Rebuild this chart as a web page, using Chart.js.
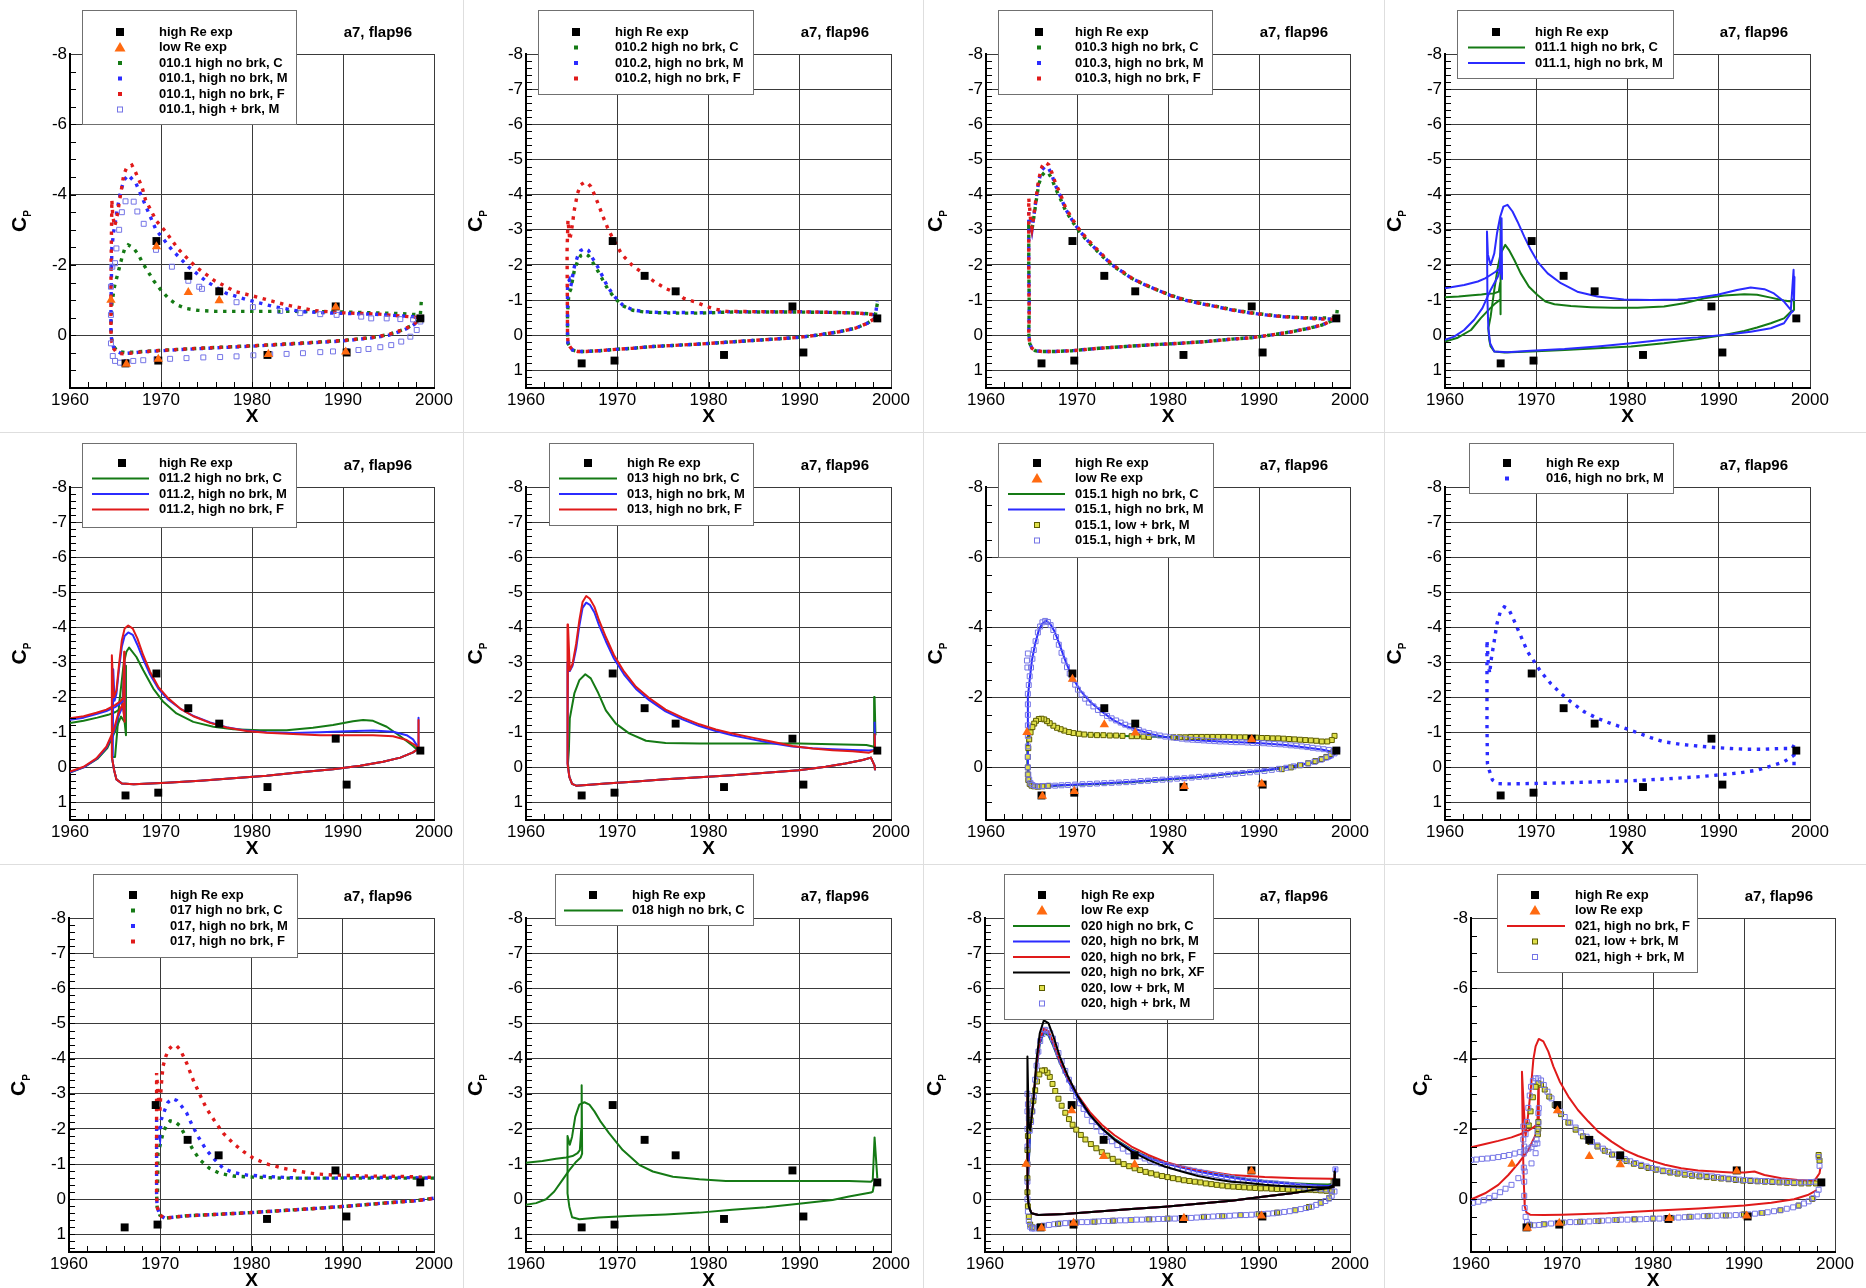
<!DOCTYPE html>
<html>
<head>
<meta charset="utf-8">
<script src="https://cdn.jsdelivr.net/npm/chart.js@4.4.0/dist/chart.umd.min.js"></script>
<style>
  body { margin: 0; background: #fff; width: 1866px; height: 1288px; position: relative; overflow: hidden; }
  canvas { position: absolute; }
  .sep { position: absolute; background: #dedede; }
</style>
</head>
<body>
<div class="sep" style="left:463px;top:0;width:1px;height:1288px"></div>
<div class="sep" style="left:923px;top:0;width:1px;height:1288px"></div>
<div class="sep" style="left:1384px;top:0;width:1px;height:1288px"></div>
<div class="sep" style="left:0;top:432px;width:1866px;height:1px"></div>
<div class="sep" style="left:0;top:864px;width:1866px;height:1px"></div>
<script>
// experimental points, the same in every panel
const expHighX  = [1966.1, 1969.5, 1969.7, 1973.0, 1976.4, 1981.7, 1989.2, 1990.4, 1998.5];
const expHighCp = [0.80, -2.68, 0.72, -1.69, -1.25, 0.56, -0.82, 0.49, -0.48];
const expLowX   = [1964.5, 1966.2, 1969.5, 1969.7, 1973.0, 1976.4, 1981.8, 1989.2, 1990.3];
const expLowCp  = [-1.00, 0.82, -2.52, 0.68, -1.22, -0.99, 0.54, -0.80, 0.47];

const xTicks = [1960, 1970, 1980, 1990, 2000];
const yTicksFine = [-8, -7, -6, -5, -4, -3, -2, -1, 0, 1];
const yTicksCoarse = [-8, -6, -4, -2, 0];

// CFD curves, flat lists x, Cp, x, Cp ...
// 010.1
const p1_C = [1998.6,-0.95, 1998.5,-0.58, 1996,-0.62, 1992,-0.65, 1988,-0.67, 1984,-0.68, 1980,-0.68, 1976,-0.68, 1974,-0.71, 1972.8,-0.76, 1971.8,-0.86, 1970.9,-1.03, 1970,-1.28, 1969.2,-1.55, 1968.6,-1.8, 1968,-2.05, 1967.5,-2.3, 1966.9,-2.5, 1966.4,-2.57, 1966,-2.45, 1965.7,-2.2, 1965.4,-1.9, 1965.1,-1.6, 1964.9,-1.4, 1964.6,-0.9, 1964.5,-0.2, 1964.6,0.15, 1964.8,0.32, 1965.1,0.42, 1965.5,0.47, 1966,0.49, 1967,0.48, 1968,0.46, 1970,0.43, 1972,0.4, 1975,0.36, 1980,0.3, 1985,0.23, 1990,0.15, 1993,0.07, 1995,-0.02, 1996.5,-0.15, 1997.5,-0.27, 1998.2,-0.4, 1998.5,-0.5];
const p1_M = [1998.5,-0.5, 1997.7,-0.53, 1993.3,-0.6, 1988.9,-0.63, 1985.5,-0.67, 1982.3,-0.82, 1979.6,-1.0, 1977.2,-1.19, 1975,-1.53, 1973,-1.95, 1971.2,-2.43, 1969.45,-3.0, 1968.2,-3.75, 1967.25,-4.32, 1966.4,-4.56, 1965.9,-4.4, 1965.5,-4.0, 1965.2,-3.6, 1965,-3.25, 1964.8,-2.95, 1964.6,-2.5, 1964.55,-1.6, 1964.5,-0.8, 1964.5,-0.1, 1964.6,0.2, 1964.8,0.35, 1965.1,0.45, 1965.5,0.5, 1966,0.52, 1967,0.5, 1968,0.47, 1970,0.44, 1972,0.41, 1975,0.37, 1980,0.31, 1985,0.24, 1990,0.16, 1993,0.08, 1995,0.0, 1996.5,-0.13, 1997.5,-0.25, 1998.2,-0.38, 1998.5,-0.5];
const p1_F = [1998.5,-0.5, 1994,-0.6, 1990,-0.64, 1986.9,-0.7, 1983.8,-0.86, 1980.8,-1.07, 1978.1,-1.25, 1975.9,-1.55, 1973.8,-1.95, 1971.9,-2.45, 1970.5,-2.95, 1969.5,-3.25, 1968.3,-3.85, 1967.9,-4.23, 1967.5,-4.46, 1967.1,-4.7, 1966.8,-4.84, 1966.2,-4.75, 1965.9,-4.56, 1965.7,-4.23, 1965.4,-3.75, 1965.1,-3.28, 1964.9,-3.1, 1964.7,-3.4, 1964.6,-3.85, 1964.55,-2.8, 1964.5,-1.5, 1964.5,-0.1, 1964.6,0.2, 1964.8,0.38, 1965.1,0.48, 1965.5,0.52, 1966,0.53, 1967,0.5, 1968,0.47, 1970,0.43, 1972,0.4, 1975,0.36, 1980,0.3, 1985,0.23, 1990,0.15, 1993,0.07, 1995,-0.02, 1996.5,-0.15, 1997.5,-0.27, 1998.2,-0.4, 1998.5,-0.5];
const p1_HB = [1998.6,-0.48, 1997.7,-0.45, 1996.3,-0.46, 1994.8,-0.48, 1993.1,-0.48, 1992,-0.53, 1989.3,-0.58, 1987.5,-0.6, 1985.3,-0.63, 1983.1,-0.69, 1980.1,-0.8, 1978.3,-0.94, 1974.5,-1.32, 1974.2,-1.38, 1973,-1.55, 1971.2,-1.95, 1969.45,-2.43, 1968.1,-3.17, 1967.4,-3.52, 1967,-3.8, 1966.1,-3.81, 1965.7,-3.5, 1965.4,-3.0, 1965.1,-2.47, 1964.95,-2.05, 1964.65,-1.95, 1964.5,-1.38, 1964.5,-0.58, 1964.5,0.23, 1964.7,0.59, 1964.95,0.73, 1965.5,0.78, 1966.2,0.76, 1966.95,0.73, 1968.05,0.71, 1969.5,0.68, 1971,0.67, 1972.8,0.65, 1974.65,0.63, 1976.5,0.62, 1978.3,0.6, 1980.15,0.57, 1982,0.54, 1983.8,0.53, 1985.6,0.51, 1987.5,0.48, 1988.9,0.46, 1990.4,0.45, 1991.7,0.42, 1992.8,0.39, 1994.1,0.34, 1995.3,0.28, 1996.4,0.18, 1997.4,0.04, 1998.1,-0.15, 1998.5,-0.39];

// 010.2
const p2_low = [1964.55,-0.05, 1964.6,0.23, 1964.8,0.32, 1965.1,0.42, 1965.65,0.46, 1966.6,0.46, 1968,0.44, 1969.85,0.4, 1971.7,0.37, 1973.9,0.32, 1976.1,0.29, 1979,0.25, 1981.9,0.2, 1984.8,0.15, 1987.7,0.1, 1989.9,0.06, 1992.1,-0.01, 1994.3,-0.1, 1996.1,-0.2, 1997.4,-0.34, 1998.2,-0.48];
const p2_C_up = [1998.5,-0.9, 1998.3,-0.6, 1996.5,-0.63, 1993.6,-0.65, 1989.9,-0.66, 1986.3,-0.66, 1982.6,-0.66, 1979,-0.63, 1976.8,-0.63, 1974.6,-0.64, 1973,-0.66, 1971.7,-0.71, 1970.6,-0.84, 1969.7,-1.06, 1968.95,-1.32, 1968.4,-1.58, 1967.85,-1.84, 1967.3,-2.08, 1966.85,-2.26, 1966.45,-2.32, 1966,-2.27, 1965.65,-2.1, 1965.3,-1.85, 1964.9,-1.3, 1964.7,-1.2, 1964.55,-0.6];
const p2_M_up = [1998.5,-0.96, 1998.3,-0.58, 1996.5,-0.63, 1993.6,-0.65, 1989.9,-0.67, 1986.3,-0.67, 1982.6,-0.67, 1979,-0.64, 1976.8,-0.65, 1974.6,-0.65, 1973,-0.67, 1971.7,-0.72, 1970.6,-0.86, 1969.7,-1.1, 1968.95,-1.38, 1968.4,-1.67, 1967.85,-1.95, 1967.3,-2.19, 1966.85,-2.41, 1966.45,-2.47, 1966,-2.41, 1965.65,-2.24, 1965.3,-1.95, 1964.9,-1.38, 1964.75,-1.57, 1964.55,-1.48, 1964.55,-0.96];
const p2_F_up = [1998.3,-0.58, 1996.5,-0.63, 1993.6,-0.65, 1989.9,-0.67, 1986.3,-0.67, 1982,-0.68, 1980.6,-0.75, 1979.5,-0.85, 1978.5,-0.95, 1977.3,-1.05, 1976.5,-1.2, 1975.4,-1.32, 1974.2,-1.5, 1972.9,-1.75, 1971.6,-2.0, 1970.5,-2.3, 1969.5,-2.76, 1968.95,-3.05, 1968.4,-3.4, 1967.95,-3.71, 1967.5,-4.0, 1967.1,-4.23, 1966.75,-4.33, 1966.4,-4.35, 1966,-4.28, 1965.65,-4.04, 1965.3,-3.57, 1965,-3.0, 1964.8,-2.71, 1964.6,-3.28, 1964.5,-2.4];

// 010.3
const p3_low = [1964.7,-0.06, 1964.8,0.23, 1965.05,0.37, 1965.4,0.44, 1966.15,0.46, 1967.6,0.46, 1969.45,0.44, 1972.4,0.37, 1975.3,0.32, 1978.2,0.27, 1981.2,0.23, 1984.1,0.18, 1987,0.11, 1989.2,0.07, 1991.4,-0.01, 1993.6,-0.1, 1995.5,-0.2, 1996.9,-0.29, 1998,-0.41, 1998.5,-0.48];
const p3_C_up = [1998.6,-0.72, 1998.5,-0.5, 1996.2,-0.49, 1994.4,-0.51, 1992.5,-0.54, 1990.7,-0.59, 1988.9,-0.65, 1987,-0.73, 1985.2,-0.83, 1983.4,-0.92, 1981.9,-1.01, 1980.4,-1.13, 1979,-1.27, 1977.5,-1.43, 1976,-1.62, 1974.95,-1.8, 1973.85,-1.99, 1972.9,-2.22, 1972,-2.45, 1971.1,-2.69, 1970.2,-2.97, 1969.45,-3.25, 1968.7,-3.57, 1968.2,-3.87, 1967.6,-4.2, 1967.25,-4.44, 1966.9,-4.6, 1966.5,-4.65, 1966.15,-4.55, 1965.8,-4.3, 1965.5,-3.8, 1965.2,-3.25, 1965.05,-3.0, 1964.9,-3.05, 1964.7,-3.1, 1964.7,-2.05, 1964.75,-0.8];
const p3_M_up = [1998.5,-0.53, 1998,-0.46, 1996.2,-0.48, 1994.4,-0.5, 1992.5,-0.53, 1990.7,-0.58, 1988.9,-0.64, 1987,-0.72, 1985.2,-0.82, 1983.4,-0.91, 1981.9,-1.0, 1980.4,-1.12, 1979,-1.27, 1977.5,-1.43, 1976,-1.62, 1974.95,-1.81, 1973.85,-2.0, 1972.9,-2.24, 1972,-2.47, 1971.1,-2.71, 1970.2,-3.0, 1969.45,-3.28, 1968.7,-3.61, 1968.2,-3.94, 1967.6,-4.28, 1967.25,-4.55, 1966.9,-4.74, 1966.5,-4.8, 1966.15,-4.7, 1965.8,-4.4, 1965.5,-3.85, 1965.2,-3.28, 1965.05,-3.0, 1964.9,-3.2, 1964.7,-3.5, 1964.7,-2.9, 1964.7,-1.95, 1964.75,-0.9];
const p3_F_up = [1998.5,-0.5, 1998,-0.45, 1996.2,-0.47, 1994.4,-0.5, 1992.5,-0.53, 1990.7,-0.58, 1988.9,-0.64, 1987,-0.72, 1985.2,-0.82, 1983.4,-0.91, 1981.9,-1.0, 1980.4,-1.12, 1979,-1.27, 1977.5,-1.44, 1976,-1.63, 1974.95,-1.82, 1973.85,-2.02, 1972.9,-2.26, 1972,-2.5, 1971.1,-2.74, 1970.2,-3.03, 1969.45,-3.32, 1968.7,-3.66, 1968.2,-4.0, 1967.6,-4.35, 1967.25,-4.62, 1966.9,-4.85, 1966.5,-4.92, 1966.15,-4.8, 1965.8,-4.45, 1965.5,-3.9, 1965.2,-3.3, 1965.05,-3.05, 1964.9,-3.3, 1964.7,-3.9, 1964.7,-2.6, 1964.7,-1.67, 1964.75,-0.5];

// 011.1
const p4_C_slat = [1960,-1.08, 1961.5,-1.1, 1963,-1.14, 1964,-1.16, 1964.6,-1.18, 1965.3,-1.19, 1965.9,-1.24, 1966.05,-1.5, 1966.1,-3.3, 1966.12,-0.6, 1966.05,-1.02, 1965.4,-0.88, 1964.7,-0.7, 1963.9,-0.48, 1962.85,-0.15, 1961.4,0.07, 1960,0.18];
const p4_C_main = [1998.3,-0.72, 1998.25,-1.05, 1997.9,-0.96, 1997.15,-0.99, 1995.7,-1.07, 1994.2,-1.15, 1992.8,-1.17, 1990.6,-1.13, 1988.4,-1.05, 1986.2,-0.91, 1984,-0.82, 1981.1,-0.78, 1978.5,-0.78, 1976,-0.8, 1973.8,-0.83, 1972,-0.88, 1971,-0.96, 1970.1,-1.15, 1969.2,-1.38, 1968.3,-1.76, 1967.6,-2.14, 1967,-2.43, 1966.6,-2.57, 1966.1,-2.33, 1965.8,-1.95, 1965.4,-1.29, 1965,-0.53, 1964.75,-0.2, 1964.85,0.13, 1965,0.32, 1965.4,0.46, 1966.5,0.49, 1969.4,0.46, 1973.1,0.42, 1976.7,0.37, 1980.4,0.32, 1984,0.23, 1987.7,0.11, 1990.6,-0.01, 1992.8,-0.12, 1994.2,-0.22, 1995.7,-0.34, 1997.15,-0.48, 1997.9,-0.67, 1998.3,-0.72];
const p4_M_slat = [1960,-1.34, 1962.1,-1.43, 1963.6,-1.53, 1964.4,-1.62, 1964.9,-1.7, 1965.5,-1.8, 1966,-1.9, 1966.2,-3.33, 1966.25,-1.6, 1966.05,-1.9, 1965.8,-1.67, 1965,-1.29, 1964.1,-0.77, 1963.2,-0.44, 1962.1,-0.15, 1961,0.04, 1960,0.13];
const p4_M_main = [1998.3,-1.67, 1998.25,-1.0, 1998.2,-1.86, 1997.9,-0.72, 1997.15,-0.96, 1996.05,-1.19, 1995,-1.31, 1993.5,-1.36, 1992,-1.29, 1989.85,-1.15, 1987.7,-1.07, 1985.5,-1.02, 1982.55,-1.0, 1979.6,-1.02, 1976.7,-1.1, 1974.5,-1.24, 1972.7,-1.48, 1971.25,-1.76, 1970.15,-2.09, 1969.4,-2.43, 1968.7,-2.8, 1967.95,-3.23, 1967.4,-3.52, 1966.85,-3.71, 1966.4,-3.66, 1966.05,-3.37, 1965.7,-2.9, 1965.4,-2.33, 1965,-2.0, 1964.7,-2.3, 1964.6,-2.95, 1964.65,-1.0, 1964.75,-0.2, 1964.95,0.23, 1965.4,0.46, 1966.85,0.48, 1969.4,0.44, 1973.1,0.39, 1976.7,0.32, 1980.4,0.23, 1984,0.13, 1987.7,0.06, 1991.3,-0.03, 1993.5,-0.1, 1995.7,-0.2, 1997.15,-0.34, 1997.9,-0.63, 1998.2,-0.7];

// 011.2
const p5_low = [1964.6,-0.3, 1964.85,0.08, 1965.1,0.34, 1965.7,0.46, 1967,0.48, 1970.6,0.44, 1974.3,0.38, 1977.9,0.31, 1981.6,0.24, 1985.3,0.14, 1988.9,0.05, 1991.9,-0.05, 1994.4,-0.16, 1996.3,-0.28, 1997.7,-0.43, 1998.3,-0.54];
const p5_C_up = [1998.2,-0.49, 1997.7,-0.61, 1996.3,-0.89, 1994.8,-1.16, 1993.3,-1.33, 1992.2,-1.35, 1991.1,-1.32, 1988.9,-1.21, 1986.7,-1.13, 1983.8,-1.06, 1980.9,-1.06, 1977.95,-1.09, 1975.75,-1.16, 1973.55,-1.3, 1971.7,-1.54, 1970.25,-1.87, 1969.15,-2.25, 1968.05,-2.77, 1967.3,-3.15, 1966.5,-3.42, 1966.2,-3.3, 1965.9,-2.96, 1965.7,-2.49, 1965.4,-1.82, 1965.2,-1.06, 1964.95,-0.3];
const p5_M_up = [1998.3,-1.42, 1998.3,-0.55, 1997.7,-0.8, 1997,-0.92, 1995.5,-1.02, 1993.3,-1.05, 1990.4,-1.03, 1987.5,-1.0, 1984.5,-0.98, 1981.6,-1.0, 1979.4,-1.05, 1977.2,-1.15, 1975.4,-1.28, 1973.55,-1.47, 1972.1,-1.68, 1970.8,-1.93, 1969.7,-2.25, 1968.8,-2.65, 1968.05,-3.08, 1967.4,-3.5, 1966.9,-3.78, 1966.4,-3.85, 1966,-3.75, 1965.7,-3.45, 1965.4,-2.85, 1965.1,-2.1, 1964.9,-1.9, 1964.75,-2.8, 1964.7,-0.3];
const p5_F_up = [1998.3,-1.35, 1998.3,-0.54, 1997.9,-0.64, 1997,-0.78, 1995.5,-0.89, 1993.3,-0.92, 1990.4,-0.92, 1987.5,-0.92, 1984.5,-0.95, 1981.6,-0.99, 1979.4,-1.04, 1977.2,-1.14, 1975.4,-1.27, 1973.55,-1.46, 1972.1,-1.68, 1970.8,-1.97, 1969.7,-2.3, 1968.8,-2.73, 1968.05,-3.2, 1967.4,-3.68, 1966.9,-3.96, 1966.4,-4.05, 1966,-3.96, 1965.7,-3.63, 1965.4,-2.96, 1965.1,-2.2, 1964.8,-2.0, 1964.6,-3.2, 1964.6,-0.3];
const p5_C_slat = [1960,-1.27, 1961.5,-1.33, 1963,-1.42, 1964.2,-1.5, 1965,-1.58, 1965.7,-1.7, 1966.05,-2.9, 1966.15,-0.92, 1966,-1.3, 1965.6,-1.45, 1964.9,-1.0, 1964.1,-0.55, 1963,-0.24, 1961.5,0.0, 1960,0.15];
const p5_M_slat = [1960,-1.36, 1961.5,-1.42, 1962.9,-1.52, 1964,-1.61, 1964.95,-1.72, 1965.5,-1.82, 1965.85,-1.9, 1965.95,-3.0, 1966,-1.4, 1965.8,-1.75, 1965.3,-1.45, 1964.8,-1.0, 1964,-0.56, 1962.9,-0.24, 1961.5,0.0, 1960,0.14];
const p5_F_slat = [1960,-1.4, 1961.5,-1.46, 1962.9,-1.56, 1964,-1.65, 1964.95,-1.78, 1965.5,-1.88, 1965.85,-1.98, 1965.95,-3.3, 1966,-1.3, 1965.8,-1.82, 1965.3,-1.54, 1964.8,-1.06, 1964,-0.59, 1962.9,-0.26, 1961.5,-0.02, 1960,0.12];

// 013
const p6_low = [1964.55,-0.11, 1964.75,0.27, 1965.05,0.47, 1965.5,0.52, 1966.6,0.5, 1968.75,0.46, 1971.7,0.41, 1975.3,0.34, 1979,0.28, 1982.6,0.22, 1986.3,0.15, 1989.9,0.08, 1992.85,-0.02, 1995,-0.11, 1996.9,-0.21, 1997.8,-0.28, 1998.2,-0.05, 1998.25,0.08];
const p6_C_up = [1998.3,-0.92, 1998.2,-2.01, 1998.15,-0.59, 1997.3,-0.64, 1993.6,-0.66, 1989.9,-0.68, 1986.3,-0.68, 1982.6,-0.68, 1979,-0.68, 1975.3,-0.7, 1973.15,-0.76, 1971.3,-0.97, 1969.85,-1.25, 1968.75,-1.63, 1967.85,-2.16, 1967.1,-2.54, 1966.5,-2.66, 1965.85,-2.49, 1965.3,-2.11, 1964.8,-1.4, 1964.7,-0.5, 1964.6,-0.11];
const p6_M_up = [1998.2,-1.3, 1998.25,-0.5, 1997.6,-0.48, 1995.8,-0.5, 1993.6,-0.52, 1991.4,-0.55, 1989.2,-0.6, 1987,-0.69, 1984.8,-0.8, 1982.6,-0.92, 1980.8,-1.04, 1979,-1.18, 1977.15,-1.37, 1975.3,-1.6, 1973.5,-1.92, 1972.05,-2.24, 1970.75,-2.65, 1969.65,-3.1, 1968.75,-3.6, 1968,-4.06, 1967.5,-4.42, 1967,-4.64, 1966.6,-4.7, 1966.2,-4.55, 1965.85,-4.05, 1965.5,-3.4, 1965.1,-2.9, 1964.8,-2.75, 1964.6,-3.0, 1964.55,-0.11];
const p6_F_up = [1998.2,-0.97, 1998.25,-0.49, 1997.6,-0.42, 1995.8,-0.46, 1993.6,-0.49, 1991.4,-0.54, 1989.2,-0.61, 1987,-0.73, 1984.8,-0.85, 1982.6,-0.97, 1980.8,-1.08, 1979,-1.23, 1977.15,-1.42, 1975.3,-1.65, 1973.5,-1.98, 1972.05,-2.3, 1970.75,-2.73, 1969.65,-3.2, 1968.75,-3.72, 1968,-4.2, 1967.5,-4.58, 1967,-4.81, 1966.6,-4.89, 1966.2,-4.72, 1965.85,-4.2, 1965.5,-3.53, 1965.1,-2.95, 1964.8,-2.77, 1964.6,-4.08, 1964.55,-0.11];

// 015.1
const p7_C = [1998.2,-0.73, 1996.9,-0.71, 1994.35,-0.78, 1990.7,-0.83, 1987,-0.85, 1983.4,-0.86, 1979.7,-0.87, 1976,-0.89, 1973.1,-0.92, 1970.9,-0.94, 1969.45,-0.99, 1968.35,-1.08, 1967.45,-1.21, 1966.7,-1.33, 1966.15,-1.4, 1965.7,-1.37, 1965.25,-1.25, 1964.9,-1.06, 1964.6,-0.78, 1964.55,-0.1, 1964.7,0.3, 1965,0.5, 1965.4,0.55, 1966.5,0.54, 1968.7,0.51, 1972.4,0.47, 1976,0.42, 1979.7,0.35, 1983.4,0.28, 1987,0.18, 1990,0.11, 1992.15,0.04, 1994.35,-0.06, 1996.55,-0.17, 1997.85,-0.3, 1998.2,-0.5];
const p7_M = [1998.6,-0.49, 1998,-0.45, 1996.9,-0.51, 1995.1,-0.57, 1992.9,-0.64, 1990.7,-0.68, 1988.5,-0.71, 1986.3,-0.73, 1984.1,-0.76, 1981.9,-0.8, 1979.7,-0.87, 1978.2,-0.95, 1976.8,-1.06, 1975.3,-1.18, 1974,-1.35, 1972.75,-1.59, 1971.45,-1.87, 1970.35,-2.2, 1969.45,-2.58, 1968.7,-3.06, 1968.05,-3.53, 1967.55,-3.87, 1967.05,-4.1, 1966.6,-4.18, 1966.15,-4.1, 1965.8,-3.91, 1965.4,-3.53, 1965.05,-3.06, 1964.8,-2.5, 1964.6,-2.01, 1964.6,-1.06, 1964.6,-0.11, 1964.7,0.27, 1965,0.46, 1965.4,0.53, 1966.5,0.53, 1968.7,0.5, 1972.4,0.46, 1976,0.41, 1979.7,0.34, 1983.4,0.27, 1987,0.17, 1990,0.1, 1992.15,0.03, 1994.35,-0.07, 1996.55,-0.18, 1997.85,-0.26, 1998.6,-0.45];
const p7_LB = [1998.3,-0.9, 1998,-0.78, 1997.5,-0.74, 1996.9,-0.74, 1996.3,-0.76, 1995.7,-0.77, 1995.1,-0.78, 1994.5,-0.79, 1993.9,-0.8, 1993.3,-0.81, 1992.7,-0.82, 1992.1,-0.83, 1991.5,-0.83, 1990.9,-0.84, 1990.3,-0.84, 1989.7,-0.85, 1989.1,-0.85, 1988.5,-0.86, 1987.9,-0.86, 1987.3,-0.86, 1986.7,-0.87, 1986.1,-0.87, 1985.5,-0.87, 1984.9,-0.87, 1984.3,-0.87, 1983.7,-0.87, 1983.1,-0.87, 1982.5,-0.87, 1981.9,-0.86, 1981.3,-0.86, 1980.6,-0.86, 1977.9,-0.87, 1977.3,-0.88, 1976.6,-0.89, 1976,-0.89, 1975,-0.9, 1974.3,-0.91, 1973.6,-0.91, 1972.9,-0.92, 1972.2,-0.92, 1971.5,-0.93, 1970.8,-0.94, 1970.2,-0.96, 1969.6,-0.98, 1969.1,-1.01, 1968.6,-1.05, 1968.2,-1.09, 1967.8,-1.13, 1967.4,-1.19, 1967,-1.26, 1966.7,-1.32, 1966.4,-1.37, 1966.1,-1.39, 1965.8,-1.38, 1965.5,-1.33, 1965.3,-1.25, 1965.1,-1.15, 1964.9,-1.0, 1964.75,-0.8, 1964.65,-0.55, 1964.6,-0.3, 1964.6,0.0, 1964.6,0.2, 1964.65,0.36, 1964.8,0.47, 1965,0.52, 1965.3,0.54, 1965.7,0.55, 1966.2,0.54, 1966.8,0.53, 1992.5,0.05, 1993.5,0.0, 1994.5,-0.06, 1995.4,-0.12, 1996.2,-0.18, 1996.9,-0.24, 1997.4,-0.3, 1997.9,-0.38, 1998.2,-0.46];
const p7_HB = [1998.6,-0.5, 1998.2,-0.47, 1997.7,-0.5, 1997.1,-0.52, 1996.5,-0.54, 1995.9,-0.56, 1995.3,-0.58, 1994.7,-0.6, 1994.1,-0.62, 1993.5,-0.63, 1992.9,-0.65, 1992.3,-0.66, 1991.7,-0.67, 1991.1,-0.68, 1990.5,-0.69, 1989.9,-0.7, 1989.3,-0.7, 1988.7,-0.71, 1988.1,-0.72, 1987.5,-0.72, 1986.9,-0.73, 1986.3,-0.74, 1985.7,-0.74, 1985.1,-0.75, 1984.5,-0.76, 1983.9,-0.77, 1983.3,-0.78, 1982.7,-0.79, 1982.1,-0.8, 1981.5,-0.82, 1980.9,-0.84, 1980.3,-0.86, 1979.7,-0.88, 1979.1,-0.91, 1978.5,-0.94, 1977.9,-0.98, 1977.3,-1.02, 1976.8,-1.07, 1976.3,-1.12, 1975.8,-1.17, 1975.3,-1.22, 1974.8,-1.28, 1974.3,-1.34, 1973.8,-1.4, 1973.3,-1.47, 1972.8,-1.55, 1972.3,-1.64, 1971.8,-1.74, 1971.3,-1.85, 1970.9,-1.96, 1970.5,-2.08, 1970.1,-2.22, 1969.8,-2.36, 1969.5,-2.52, 1969.2,-2.68, 1968.9,-2.86, 1968.6,-3.05, 1968.3,-3.27, 1968,-3.5, 1967.7,-3.72, 1967.4,-3.92, 1967.1,-4.06, 1966.8,-4.15, 1966.5,-4.18, 1966.2,-4.14, 1965.95,-4.02, 1965.7,-3.85, 1965.45,-3.6, 1965.25,-3.35, 1965.1,-3.1, 1964.95,-2.85, 1964.8,-2.6, 1964.7,-2.35, 1964.6,-3.25, 1964.5,-3.05, 1964.55,-2.85, 1964.6,-2.1, 1964.6,-1.8, 1964.6,-1.5, 1964.6,-1.2, 1964.6,-0.9, 1964.6,-0.6, 1964.6,-0.3, 1964.6,0.0, 1964.65,0.2, 1964.75,0.35, 1964.9,0.45, 1965.1,0.5, 1965.4,0.53, 1965.8,0.54, 1966.3,0.53, 1966.9,0.52, 1967.6,0.52, 1968.3,0.51, 1969,0.5, 1969.8,0.49, 1970.6,0.48, 1971.4,0.47, 1972.2,0.46, 1973,0.45, 1973.8,0.44, 1974.6,0.43, 1975.4,0.42, 1976.2,0.41, 1977,0.39, 1977.8,0.38, 1978.6,0.36, 1979.4,0.35, 1980.2,0.34, 1981,0.32, 1981.8,0.31, 1982.6,0.29, 1983.4,0.27, 1984.2,0.26, 1985,0.24, 1985.8,0.22, 1986.6,0.2, 1987.4,0.18, 1988.2,0.16, 1989,0.14, 1989.8,0.12, 1990.6,0.1, 1991.4,0.07, 1992.2,0.04, 1993,0.01, 1993.8,-0.03, 1994.6,-0.07, 1995.4,-0.11, 1996.1,-0.16, 1996.8,-0.22, 1997.4,-0.28, 1997.9,-0.34, 1998.3,-0.4];

// 016
const p8_M = [1998.25,-0.64, 1998.05,-0.54, 1996.8,-0.54, 1994.95,-0.52, 1993.1,-0.52, 1991.3,-0.54, 1989.5,-0.57, 1987.65,-0.61, 1985.85,-0.66, 1984,-0.73, 1982.55,-0.85, 1981.1,-0.99, 1979.6,-1.13, 1978.2,-1.25, 1976.7,-1.4, 1975.25,-1.59, 1973.8,-1.87, 1972.7,-2.11, 1971.6,-2.39, 1970.5,-2.73, 1969.8,-3.01, 1969.05,-3.3, 1968.5,-3.63, 1967.95,-3.96, 1967.4,-4.29, 1966.95,-4.53, 1966.5,-4.58, 1966.05,-4.43, 1965.7,-4.1, 1965.35,-3.53, 1965.05,-3.06, 1964.9,-2.68, 1964.75,-2.96, 1964.6,-3.63, 1964.6,-2.96, 1964.6,-2.01, 1964.6,-1.25, 1964.65,-0.11, 1964.85,0.08, 1965.2,0.36, 1965.75,0.46, 1966.85,0.47, 1969.4,0.46, 1973.05,0.44, 1976.7,0.41, 1980.4,0.38, 1984,0.33, 1987.65,0.27, 1990.6,0.2, 1992.4,0.15, 1994.2,0.08, 1995.7,-0.04, 1997.15,-0.16, 1998.25,-0.35, 1998.25,-0.02];

// 017
const p9_low = [1969.6,-0.17, 1969.65,0.21, 1969.95,0.45, 1970.5,0.54, 1971.4,0.51, 1972.9,0.47, 1976.15,0.43, 1979.8,0.38, 1983.5,0.32, 1987.1,0.26, 1990.8,0.19, 1994.45,0.11, 1998.1,0.04, 2000,-0.03];
const p9_C_up = [2000,-0.6, 1992.6,-0.6, 1987.1,-0.6, 1983.5,-0.6, 1980.2,-0.63, 1978,-0.66, 1976.5,-0.74, 1975.4,-0.88, 1974.35,-1.12, 1973.6,-1.4, 1972.9,-1.74, 1972.15,-2.09, 1971.6,-2.21, 1971.1,-2.23, 1970.7,-2.12, 1970.3,-1.88, 1969.95,-1.5, 1969.75,-1.31, 1969.7,-0.17];
const p9_M_up = [2000,-0.6, 1996.3,-0.62, 1992.6,-0.62, 1988.95,-0.6, 1985.3,-0.6, 1981.6,-0.65, 1979.45,-0.69, 1978,-0.76, 1976.9,-0.88, 1976,-1.12, 1975.05,-1.4, 1974.15,-1.78, 1973.4,-2.16, 1972.9,-2.45, 1972.3,-2.66, 1971.8,-2.81, 1971.35,-2.86, 1970.85,-2.76, 1970.5,-2.54, 1970.1,-2.26, 1969.95,-1.78, 1969.75,-2.0, 1969.6,-2.26, 1969.6,-0.17];
const p9_F_up = [2000,-0.62, 1996.3,-0.65, 1992.6,-0.66, 1988.95,-0.69, 1987.1,-0.72, 1985.3,-0.79, 1983.5,-0.88, 1981.6,-1.01, 1980.2,-1.17, 1979.1,-1.36, 1978,-1.59, 1976.9,-1.88, 1976,-2.21, 1975.05,-2.59, 1974.35,-2.97, 1973.6,-3.4, 1972.9,-3.87, 1972.2,-4.25, 1971.8,-4.36, 1971.35,-4.37, 1970.95,-4.27, 1970.6,-4.06, 1970.3,-3.78, 1970.1,-3.2, 1969.95,-2.45, 1969.75,-3.02, 1969.6,-3.59, 1969.6,-0.17];

// 018
const p10_slat = [1960,-1.04, 1961.8,-1.09, 1963.3,-1.15, 1964.4,-1.19, 1965.1,-1.23, 1965.65,-1.31, 1965.9,-1.4, 1966.05,-2.0, 1966.1,-3.24, 1966.15,-1.3, 1966,-1.19, 1965.5,-1.07, 1964.75,-0.83, 1964,-0.55, 1963.1,-0.22, 1962.2,0.0, 1961.1,0.11, 1960,0.16];
const p10_main = [1998.5,-0.6, 1998.2,-1.76, 1998,-0.55, 1997.8,-0.5, 1995.4,-0.52, 1991.75,-0.52, 1988.1,-0.52, 1984.45,-0.52, 1981.9,-0.52, 1979,-0.57, 1976.1,-0.64, 1973.9,-0.79, 1972.4,-0.98, 1970.6,-1.4, 1969.1,-1.88, 1968.2,-2.2, 1967.5,-2.5, 1966.95,-2.69, 1966.4,-2.76, 1965.85,-2.69, 1965.4,-2.35, 1965.05,-1.78, 1964.8,-1.55, 1964.55,-1.8, 1964.55,-0.17, 1964.75,0.21, 1965.05,0.51, 1965.85,0.57, 1968,0.52, 1971.7,0.47, 1975.3,0.43, 1979,0.38, 1982.6,0.3, 1986.3,0.23, 1989.9,0.13, 1993.6,0.02, 1995.4,-0.08, 1997.8,-0.19, 1998,-0.22, 1998.2,-0.5];

// 020
const p11_low = [1964.65,-0.17, 1964.8,0.21, 1965.1,0.4, 1965.85,0.45, 1968.75,0.42, 1972.4,0.35, 1976.05,0.28, 1979.7,0.21, 1983.35,0.13, 1987,0.04, 1990.65,-0.08, 1993.6,-0.17, 1996.1,-0.27, 1997.6,-0.31, 1998.3,-0.36];
const p11_C_up = [1998.4,-0.6, 1998.3,-0.45, 1997.6,-0.42, 1996.1,-0.43, 1994.3,-0.45, 1992.5,-0.48, 1990.65,-0.52, 1988.8,-0.57, 1987,-0.64, 1985.2,-0.72, 1983.35,-0.81, 1981.55,-0.92, 1979.7,-1.04, 1977.9,-1.2, 1976.05,-1.42, 1974.2,-1.72, 1972.8,-2.02, 1971.5,-2.4, 1970.2,-2.87, 1969.1,-3.38, 1968.2,-3.88, 1967.5,-4.35, 1966.95,-4.66, 1966.45,-4.74, 1966,-4.42, 1965.65,-3.72, 1965.3,-2.72, 1964.95,-1.95, 1964.65,-0.17];
const p11_M_up = [1998.4,-0.9, 1998.3,-0.42, 1997.6,-0.38, 1996.1,-0.4, 1994.3,-0.43, 1992.5,-0.46, 1990.65,-0.5, 1988.8,-0.55, 1987,-0.62, 1985.2,-0.7, 1983.35,-0.79, 1981.55,-0.9, 1979.7,-1.02, 1977.9,-1.18, 1976.05,-1.4, 1974.2,-1.7, 1972.8,-2.0, 1971.5,-2.38, 1970.2,-2.86, 1969.1,-3.38, 1968.2,-3.9, 1967.5,-4.38, 1966.95,-4.7, 1966.45,-4.78, 1966,-4.45, 1965.65,-3.75, 1965.3,-2.75, 1964.95,-1.95, 1964.65,-0.17];
const p11_F_up = [1998.35,-0.7, 1998.3,-0.58, 1997.95,-0.58, 1994.3,-0.6, 1990.65,-0.63, 1987,-0.69, 1983.35,-0.83, 1981.55,-0.93, 1979.7,-1.07, 1977.9,-1.26, 1976.05,-1.5, 1974.2,-1.82, 1972.8,-2.12, 1971.5,-2.48, 1970.2,-2.95, 1969.1,-3.45, 1968.2,-3.95, 1967.5,-4.45, 1966.95,-4.78, 1966.45,-4.85, 1966,-4.55, 1965.65,-3.85, 1965.3,-2.8, 1964.95,-1.97, 1964.8,-2.0, 1964.65,-3.0, 1964.65,-0.17];
const p11_XF_up = [1998.35,-0.79, 1998.3,-0.41, 1997.6,-0.34, 1996.1,-0.34, 1994.3,-0.36, 1992.5,-0.38, 1990.65,-0.41, 1988.8,-0.46, 1987,-0.5, 1985.2,-0.57, 1983.35,-0.66, 1981.55,-0.79, 1979.7,-0.93, 1977.9,-1.12, 1976.05,-1.36, 1974.2,-1.69, 1972.8,-2.02, 1971.5,-2.4, 1970.2,-2.92, 1969.1,-3.49, 1968.2,-4.06, 1967.5,-4.63, 1966.95,-5.01, 1966.45,-5.09, 1966,-4.72, 1965.65,-3.97, 1965.3,-2.83, 1964.95,-1.97, 1964.8,-2.07, 1964.65,-4.06, 1964.65,-0.17];
const p11_LB = [1998.2,-0.5, 1998,-0.22, 1997.4,-0.24, 1996.8,-0.25, 1996.2,-0.26, 1995.6,-0.27, 1995,-0.27, 1994.4,-0.28, 1993.8,-0.28, 1993.2,-0.28, 1992.6,-0.29, 1992,-0.29, 1991.4,-0.3, 1990.8,-0.31, 1990.2,-0.31, 1989.6,-0.32, 1989,-0.33, 1988.4,-0.34, 1987.8,-0.35, 1987.2,-0.36, 1986.6,-0.37, 1986,-0.39, 1985.4,-0.41, 1984.8,-0.43, 1984.2,-0.45, 1983.6,-0.48, 1983,-0.5, 1982.4,-0.52, 1981.8,-0.54, 1981.2,-0.57, 1980.6,-0.6, 1980,-0.63, 1979.4,-0.66, 1978.8,-0.7, 1978.2,-0.74, 1977.6,-0.78, 1977,-0.83, 1976.4,-0.88, 1975.8,-0.94, 1975.2,-1.0, 1974.6,-1.07, 1974,-1.15, 1973.4,-1.24, 1972.8,-1.34, 1972.2,-1.45, 1971.6,-1.57, 1971,-1.7, 1970.5,-1.83, 1970,-1.98, 1969.6,-2.12, 1969.2,-2.28, 1968.8,-2.46, 1968.4,-2.66, 1968.05,-2.86, 1967.7,-3.08, 1967.4,-3.28, 1967.1,-3.48, 1966.85,-3.6, 1966.55,-3.67, 1966.25,-3.66, 1965.95,-3.55, 1965.7,-3.35, 1965.5,-3.1, 1965.3,-2.8, 1965.15,-2.5, 1965,-2.25, 1964.85,-2.0, 1964.7,-1.8, 1964.65,-1.4, 1964.65,-1.0, 1964.65,-0.6, 1964.65,-0.2, 1964.7,0.2, 1964.8,0.5, 1964.95,0.72, 1965.2,0.8, 1966,0.78, 1968,0.7, 1970,0.66, 1972,0.64, 1974,0.61, 1976,0.59, 1978,0.57, 1980,0.55, 1982,0.53, 1984,0.5, 1986,0.48, 1988,0.45, 1990,0.42, 1992,0.38, 1994,0.31, 1995.5,0.22, 1996.8,0.1, 1997.7,-0.03];
const p11_HB = [1998.4,-0.85, 1998.3,-0.46, 1997.9,-0.27, 1997.3,-0.28, 1996.7,-0.3, 1996.1,-0.31, 1995.5,-0.33, 1994.9,-0.36, 1994.3,-0.38, 1993.7,-0.4, 1993.1,-0.42, 1992.5,-0.43, 1991.9,-0.45, 1991.3,-0.46, 1990.7,-0.47, 1990.1,-0.49, 1989.5,-0.51, 1988.9,-0.53, 1988.3,-0.55, 1987.7,-0.57, 1987.1,-0.6, 1986.5,-0.63, 1985.9,-0.66, 1985.3,-0.69, 1984.7,-0.72, 1984.1,-0.75, 1983.5,-0.78, 1982.9,-0.81, 1982.3,-0.84, 1981.7,-0.87, 1981.1,-0.9, 1980.5,-0.93, 1979.9,-0.97, 1979.3,-1.01, 1978.7,-1.05, 1978.1,-1.1, 1977.5,-1.16, 1976.9,-1.22, 1976.3,-1.28, 1975.7,-1.36, 1975.1,-1.44, 1974.5,-1.54, 1973.9,-1.65, 1973.3,-1.77, 1972.75,-1.93, 1972.2,-2.06, 1971.7,-2.22, 1971.2,-2.4, 1970.8,-2.57, 1970.4,-2.73, 1970,-2.93, 1969.6,-3.15, 1969.2,-3.4, 1968.8,-3.65, 1968.4,-3.92, 1968.05,-4.16, 1967.75,-4.38, 1967.45,-4.57, 1967.15,-4.72, 1966.85,-4.8, 1966.55,-4.82, 1966.3,-4.7, 1966.05,-4.5, 1965.85,-4.2, 1965.65,-3.8, 1965.5,-3.4, 1965.35,-2.9, 1965.2,-2.5, 1965.05,-2.2, 1964.9,-1.95, 1964.8,-2.3, 1964.7,-2.7, 1964.65,-3.0, 1964.65,-2.5, 1964.65,-2.0, 1964.65,-1.5, 1964.65,-1.0, 1964.65,-0.5, 1964.65,0.0, 1964.7,0.35, 1964.8,0.62, 1964.95,0.78, 1965.15,0.83, 1965.4,0.83, 1965.85,0.79, 1966.4,0.75, 1967,0.73, 1967.6,0.71, 1968.2,0.69, 1968.8,0.68, 1969.4,0.67, 1970,0.66, 1970.6,0.65, 1971.2,0.65, 1971.8,0.64, 1972.4,0.63, 1973,0.62, 1973.6,0.62, 1974.2,0.61, 1974.8,0.6, 1975.4,0.6, 1976,0.59, 1976.6,0.58, 1977.2,0.58, 1977.8,0.57, 1978.4,0.57, 1979,0.56, 1979.6,0.56, 1980.2,0.55, 1980.8,0.55, 1981.4,0.54, 1982,0.53, 1982.6,0.53, 1983.2,0.52, 1983.8,0.51, 1984.4,0.5, 1985,0.49, 1985.6,0.48, 1986.2,0.48, 1986.8,0.47, 1987.4,0.46, 1988,0.45, 1988.6,0.45, 1989.2,0.44, 1989.8,0.43, 1990.4,0.42, 1991,0.41, 1991.6,0.4, 1992.2,0.38, 1992.8,0.36, 1993.4,0.34, 1994,0.31, 1994.6,0.28, 1995.2,0.25, 1995.8,0.21, 1996.3,0.16, 1996.8,0.11, 1997.3,0.05, 1997.7,-0.02, 1998,-0.1, 1998.3,-0.22];

// 021
const p12_F_slat = [1960,-1.48, 1961.55,-1.57, 1963,-1.66, 1964.45,-1.76, 1965.4,-1.85, 1966.3,-1.95, 1966.9,-2.05, 1967.3,-2.15, 1967.4,-3.2, 1967.45,-2.0, 1967.3,-1.97, 1967,-1.78, 1966.3,-1.4, 1965.2,-1.02, 1964.1,-0.69, 1963,-0.41, 1961.55,-0.17, 1960.5,-0.05, 1960,0.0];
const p12_F_main = [1998.4,-0.9, 1998.3,-0.74, 1997.75,-0.53, 1995.9,-0.55, 1994.1,-0.6, 1992.25,-0.69, 1991.15,-0.79, 1990.05,-0.76, 1988.6,-0.76, 1986.75,-0.79, 1984.95,-0.82, 1983.1,-0.88, 1981.3,-0.98, 1979.8,-1.1, 1978.35,-1.23, 1976.9,-1.4, 1975.45,-1.64, 1973.95,-1.93, 1972.9,-2.21, 1971.75,-2.54, 1970.7,-2.92, 1969.75,-3.35, 1969.05,-3.78, 1968.5,-4.2, 1967.95,-4.49, 1967.45,-4.56, 1967.1,-4.35, 1966.85,-3.97, 1966.6,-3.21, 1966.3,-2.45, 1966,-1.8, 1965.8,-2.6, 1965.6,-3.63, 1965.7,-1.5, 1965.8,-0.5, 1965.85,-0.17, 1965.9,0.2, 1966.1,0.38, 1966.5,0.44, 1968,0.45, 1970,0.44, 1975,0.4, 1980,0.33, 1985,0.26, 1990,0.18, 1993,0.1, 1995.5,0.0, 1997,-0.12, 1998,-0.26];
const p12_HB_slat = [1960,-1.12, 1960.6,-1.13, 1961.2,-1.15, 1961.8,-1.16, 1962.4,-1.18, 1963,-1.2, 1963.6,-1.23, 1964.2,-1.26, 1964.8,-1.3, 1965.4,-1.34, 1965.9,-1.39, 1966.3,-1.44, 1966.65,-1.48, 1967,-1.57, 1967.2,-1.7, 1967.3,-1.93, 1967.4,-2.16, 1967.4,-2.45, 1967.45,-2.59, 1967.3,-1.59, 1967.1,-1.31, 1966.65,-1.02, 1965.9,-0.79, 1965.2,-0.6, 1964.45,-0.41, 1963.8,-0.3, 1963.2,-0.2, 1962.6,-0.1, 1962,-0.03, 1961.4,0.03, 1960.8,0.07, 1960.2,0.1];
const p12_HB_main = [1998.5,-0.45, 1998.3,-0.95, 1998.2,-1.2, 1997.9,-0.5, 1997.3,-0.49, 1996.7,-0.48, 1996.1,-0.48, 1995.5,-0.48, 1994.9,-0.49, 1994.3,-0.5, 1993.7,-0.5, 1993.1,-0.51, 1992.5,-0.52, 1991.9,-0.52, 1991.3,-0.53, 1990.7,-0.54, 1990.1,-0.55, 1989.5,-0.56, 1988.9,-0.58, 1988.3,-0.59, 1987.7,-0.61, 1987.1,-0.63, 1986.5,-0.65, 1985.9,-0.67, 1985.3,-0.68, 1984.7,-0.7, 1984.1,-0.72, 1983.5,-0.74, 1982.9,-0.76, 1982.3,-0.78, 1981.7,-0.8, 1981.1,-0.82, 1980.5,-0.85, 1979.9,-0.89, 1979.3,-0.93, 1978.7,-0.98, 1978.1,-1.03, 1977.5,-1.08, 1976.9,-1.14, 1976.3,-1.2, 1975.7,-1.27, 1975.1,-1.35, 1974.5,-1.44, 1973.9,-1.53, 1973.3,-1.63, 1972.7,-1.78, 1972.1,-1.9, 1971.5,-2.04, 1970.9,-2.18, 1970.3,-2.34, 1969.8,-2.5, 1969.3,-2.7, 1968.85,-2.87, 1968.4,-3.06, 1968,-3.25, 1967.7,-3.38, 1967.4,-3.44, 1967.1,-3.44, 1966.8,-3.36, 1966.6,-3.2, 1966.45,-2.95, 1966.3,-2.6, 1966.15,-2.2, 1966,-1.85, 1965.85,-1.5, 1965.75,-2.07, 1965.75,-1.7, 1965.8,-1.3, 1965.8,-0.9, 1965.85,-0.5, 1965.85,-0.1, 1965.9,0.25, 1966,0.5, 1966.15,0.65, 1966.4,0.72, 1966.9,0.74, 1967.5,0.73, 1968.1,0.71, 1968.8,0.69, 1969.5,0.67, 1970.2,0.66, 1970.9,0.65, 1971.6,0.65, 1972.3,0.64, 1973,0.63, 1973.7,0.62, 1974.4,0.61, 1975.1,0.6, 1975.8,0.59, 1976.5,0.58, 1977.2,0.58, 1977.9,0.57, 1978.6,0.57, 1979.3,0.56, 1980,0.55, 1980.7,0.55, 1981.4,0.54, 1982.1,0.53, 1982.8,0.52, 1983.5,0.51, 1984.2,0.5, 1984.9,0.49, 1985.6,0.48, 1986.3,0.47, 1987,0.47, 1987.7,0.46, 1988.4,0.46, 1989.1,0.45, 1989.8,0.44, 1990.5,0.43, 1991.2,0.41, 1991.9,0.39, 1992.6,0.37, 1993.3,0.34, 1994,0.31, 1994.7,0.27, 1995.4,0.23, 1996,0.18, 1996.6,0.12, 1997.1,0.06, 1997.6,-0.03, 1998,-0.14, 1998.2,-0.27];
const p12_LB = [1998.3,-1.1, 1998.2,-1.26, 1997.9,-0.45, 1997.1,-0.45, 1996.3,-0.45, 1995.5,-0.46, 1994.7,-0.47, 1993.9,-0.48, 1993.1,-0.49, 1992.3,-0.5, 1991.5,-0.51, 1990.7,-0.52, 1989.9,-0.53, 1989.1,-0.55, 1988.3,-0.57, 1987.5,-0.59, 1986.7,-0.61, 1985.9,-0.63, 1985.1,-0.65, 1984.3,-0.67, 1983.5,-0.7, 1982.7,-0.73, 1981.9,-0.76, 1981.1,-0.8, 1980.3,-0.84, 1979.5,-0.89, 1978.7,-0.95, 1977.9,-1.01, 1977.1,-1.09, 1976.3,-1.17, 1975.5,-1.27, 1974.7,-1.38, 1973.9,-1.5, 1973.1,-1.63, 1972.3,-1.79, 1971.5,-1.98, 1970.7,-2.18, 1969.9,-2.42, 1969.2,-2.68, 1968.6,-2.92, 1968.1,-3.12, 1967.7,-3.26, 1967.4,-3.3, 1967.1,-3.2, 1966.8,-2.9, 1966.55,-2.5, 1966.35,-2.1, 1967.4,-2.2, 1967.4,-2.0, 1967.35,-1.85, 1966.5,0.73, 1968,0.71, 1970,0.67, 1972,0.64, 1974,0.62, 1976,0.59, 1978,0.57, 1980,0.55, 1982,0.53, 1984,0.5, 1986,0.48, 1988,0.46, 1990,0.43, 1992,0.39, 1994,0.31, 1996,0.18, 1997.5,-0.01];

// ---------- styles ----------
const FONT = '"Liberation Sans", Arial, Helvetica, sans-serif';
const GREEN = '#157a15', BLUE = '#2b2bff', RED = '#e01a1a', BLACK = '#000000';
const ORANGE = '#ff6a10', OPEN = '#7474e6', YEL = '#e0e04a', OLIVE = '#5c5c00';

function pts(a) {
  const out = [];
  for (let i = 0; i < a.length; i += 2) out.push({x: a[i], y: a[i + 1]});
  return out;
}
function xy(xs, ys) { return xs.map((x, i) => ({x: x, y: ys[i]})); }

const expH = () => ({data: xy(expHighX, expHighCp), pointStyle: 'rect', pointRadius: 5.6, backgroundColor: '#000', borderWidth: 0});
const expL = () => ({data: xy(expLowX, expLowCp), pointStyle: 'triangle', pointRadius: 5.4, backgroundColor: ORANGE, borderWidth: 0});
const dots = (a, c, off) => ({data: pts(a), showLine: true, pointRadius: 0, borderColor: c, borderWidth: 3.4, borderDash: [3.4, 5.6], borderDashOffset: off});
const line = (a, c) => ({data: pts(a), showLine: true, pointRadius: 0, borderColor: c, borderWidth: 2, borderJoinStyle: 'round'});
const open = a => ({data: pts(a), pointStyle: 'rect', pointRadius: 3.5, borderColor: OPEN, borderWidth: 1, backgroundColor: 'rgba(0,0,0,0)'});
const yel = a => ({data: pts(a), pointStyle: 'rect', pointRadius: 3.5, borderColor: OLIVE, borderWidth: 1, backgroundColor: YEL});

// first dataset is drawn on top
const panels = [
  {L: 70, T: 54, R: 434, B: 388, yMajor: 2,
   series: [expL(), expH(), open(p1_HB), dots(p1_F, RED, 6), dots(p1_M, BLUE, 3), dots(p1_C, GREEN, 0)],
   legend: {box: [12, -44, 226, 70], sym: 50, text: 89, row0: -22,
     items: [['expH', 'high Re exp'], ['expL', 'low Re exp'], ['dot', '010.1 high no brk, C', GREEN], ['dot', '010.1, high no brk, M', BLUE], ['dot', '010.1, high no brk, F', RED], ['open', '010.1, high + brk, M']]}},
  {L: 526, T: 54, R: 891, B: 388, yMajor: 1,
   series: [expH(), dots(p2_F_up.concat(p2_low), RED, 6), dots(p2_M_up.concat(p2_low), BLUE, 3), dots(p2_C_up.concat(p2_low), GREEN, 0)],
   legend: {box: [12, -44, 227, 40], sym: 50, text: 89, row0: -22,
     items: [['expH', 'high Re exp'], ['dot', '010.2 high no brk, C', GREEN], ['dot', '010.2, high no brk, M', BLUE], ['dot', '010.2, high no brk, F', RED]]}},
  {L: 986, T: 54, R: 1350, B: 388, yMajor: 1,
   series: [expH(), dots(p3_F_up.concat(p3_low), RED, 6), dots(p3_M_up.concat(p3_low), BLUE, 3), dots(p3_C_up.concat(p3_low), GREEN, 0)],
   legend: {box: [12, -44, 226, 40], sym: 53, text: 89, row0: -22,
     items: [['expH', 'high Re exp'], ['dot', '010.3 high no brk, C', GREEN], ['dot', '010.3, high no brk, M', BLUE], ['dot', '010.3, high no brk, F', RED]]}},
  {L: 1445, T: 54, R: 1810, B: 388, yMajor: 1,
   series: [expH(), line(p4_M_slat, BLUE), line(p4_M_main, BLUE), line(p4_C_slat, GREEN), line(p4_C_main, GREEN)],
   legend: {box: [12, -44, 228, 24], sym: 51, text: 90, row0: -22, l0: 23, l1: 80,
     items: [['expH', 'high Re exp'], ['line', '011.1 high no brk, C', GREEN], ['line', '011.1, high no brk, M', BLUE]]}},
  {L: 70, T: 487, R: 434, B: 820, yMajor: 1,
   series: [expH(), line(p5_F_slat, RED), line(p5_F_up.concat(p5_low), RED), line(p5_M_slat, BLUE), line(p5_M_up.concat(p5_low), BLUE), line(p5_C_slat, GREEN), line(p5_C_up.concat(p5_low), GREEN)],
   legend: {box: [12, -44, 226, 40], sym: 52, text: 89, row0: -24, l0: 22, l1: 79,
     items: [['expH', 'high Re exp'], ['line', '011.2 high no brk, C', GREEN], ['line', '011.2, high no brk, M', BLUE], ['line', '011.2, high no brk, F', RED]]}},
  {L: 526, T: 487, R: 891, B: 820, yMajor: 1,
   series: [expH(), line(p6_F_up.concat(p6_low), RED), line(p6_M_up.concat(p6_low), BLUE), line(p6_C_up.concat(p6_low), GREEN)],
   legend: {box: [23, -44, 227, 38], sym: 62, text: 101, row0: -24, l0: 33, l1: 91,
     items: [['expH', 'high Re exp'], ['line', '013 high no brk, C', GREEN], ['line', '013, high no brk, M', BLUE], ['line', '013, high no brk, F', RED]]}},
  {L: 986, T: 487, R: 1350, B: 820, yMajor: 2,
   series: [expL(), expH(), open(p7_HB), yel(p7_LB), line(p7_M, BLUE), line(p7_C, GREEN)],
   legend: {box: [12, -44, 227, 70], sym: 51, text: 89, row0: -24, l0: 22, l1: 79,
     items: [['expH', 'high Re exp'], ['expL', 'low Re exp'], ['line', '015.1 high no brk, C', GREEN], ['line', '015.1, high no brk, M', BLUE], ['yel', '015.1, low + brk, M'], ['open', '015.1, high + brk, M']]}},
  {L: 1445, T: 487, R: 1810, B: 820, yMajor: 1,
   series: [expH(), dots(p8_M, BLUE, 0)],
   legend: {box: [24, -44, 228, 6], sym: 62, text: 101, row0: -24,
     items: [['expH', 'high Re exp'], ['dot', '016, high no brk, M', BLUE]]}},
  {L: 69, T: 918, R: 434, B: 1252, yMajor: 1,
   series: [expH(), dots(p9_F_up.concat(p9_low), RED, 6), dots(p9_M_up.concat(p9_low), BLUE, 3), dots(p9_C_up.concat(p9_low), GREEN, 0)],
   legend: {box: [24, -44, 228, 39], sym: 64, text: 101, row0: -23,
     items: [['expH', 'high Re exp'], ['dot', '017 high no brk, C', GREEN], ['dot', '017, high no brk, M', BLUE], ['dot', '017, high no brk, F', RED]]}},
  {L: 526, T: 918, R: 891, B: 1252, yMajor: 1,
   series: [expH(), line(p10_slat, GREEN), line(p10_main, GREEN)],
   legend: {box: [29, -44, 227, 7], sym: 67, text: 106, row0: -23, l0: 38, l1: 97,
     items: [['expH', 'high Re exp'], ['line', '018 high no brk, C', GREEN]]}},
  {L: 985, T: 918, R: 1350, B: 1252, yMajor: 1,
   series: [expL(), expH(), line(p11_XF_up.concat(p11_low), BLACK), open(p11_HB), yel(p11_LB), line(p11_F_up.concat(p11_low), RED), line(p11_M_up.concat(p11_low), BLUE), line(p11_C_up.concat(p11_low), GREEN)],
   legend: {box: [19, -44, 228, 101], sym: 57, text: 96, row0: -23, l0: 28, l1: 85,
     items: [['expH', 'high Re exp'], ['expL', 'low Re exp'], ['line', '020 high no brk, C', GREEN], ['line', '020, high no brk, M', BLUE], ['line', '020, high no brk, F', RED], ['line', '020, high no brk, XF', BLACK], ['yel', '020, low + brk, M'], ['open', '020, high + brk, M']]}},
  {L: 1471, T: 918, R: 1835, B: 1252, yMajor: 2,
   series: [expL(), expH(), open(p12_HB_slat), open(p12_HB_main), yel(p12_LB), line(p12_F_slat, RED), line(p12_F_main, RED)],
   legend: {box: [26, -44, 226, 54], sym: 64, text: 104, row0: -23, l0: 36, l1: 94,
     items: [['expH', 'high Re exp'], ['expL', 'low Re exp'], ['line', '021, high no brk, F', RED], ['yel', '021, low + brk, M'], ['open', '021, high + brk, M']]}}
];

function drawSym(ctx, it, x, y, lg, ca) {
  const kind = it[0], color = it[2];
  if (kind === 'expH') { ctx.fillStyle = '#000'; ctx.fillRect(x - 4, y - 4, 8, 8); }
  else if (kind === 'expL') {
    ctx.fillStyle = ORANGE; ctx.beginPath();
    ctx.moveTo(x, y - 5.5); ctx.lineTo(x + 5.5, y + 4); ctx.lineTo(x - 5.5, y + 4);
    ctx.closePath(); ctx.fill();
  }
  else if (kind === 'dot') { ctx.fillStyle = color; ctx.fillRect(x - 2, y - 2, 4, 4); }
  else if (kind === 'line') {
    ctx.strokeStyle = color; ctx.lineWidth = 2; ctx.beginPath();
    ctx.moveTo(ca.left + lg.l0, y); ctx.lineTo(ca.left + lg.l1, y); ctx.stroke();
  }
  else if (kind === 'open') { ctx.strokeStyle = OPEN; ctx.lineWidth = 1; ctx.strokeRect(x - 2.5, y - 2.5, 5, 5); }
  else if (kind === 'yel') {
    ctx.fillStyle = YEL; ctx.fillRect(x - 2.5, y - 2.5, 5, 5);
    ctx.strokeStyle = OLIVE; ctx.lineWidth = 1; ctx.strokeRect(x - 2.5, y - 2.5, 5, 5);
  }
}

function decor(p) {
  return {
    id: 'decor',
    afterDraw(chart) {
      const ctx = chart.ctx, ca = chart.chartArea, xs = chart.scales.x, ys = chart.scales.y;
      ctx.save();
      // inward minor ticks
      ctx.strokeStyle = '#000'; ctx.lineWidth = 1; ctx.beginPath();
      for (let v = 1962; v < 2000; v += 2) {
        const px = Math.round(xs.getPixelForValue(v)) + 0.5;
        ctx.moveTo(px, ca.bottom); ctx.lineTo(px, ca.bottom - 6);
      }
      const ms = p.yMajor === 2 ? 0.5 : 0.2;
      const n = Math.round(9.5 / ms);
      for (let k = 1; k < n; k++) {
        const py = Math.round(ys.getPixelForValue(-8 + k * ms)) + 0.5;
        ctx.moveTo(ca.left, py); ctx.lineTo(ca.left + 6, py);
      }
      ctx.stroke();

      // axis titles
      ctx.fillStyle = '#000';
      ctx.font = 'bold 19px ' + FONT; ctx.textAlign = 'center'; ctx.textBaseline = 'middle';
      ctx.fillText('X', (ca.left + ca.right) / 2, ca.bottom + 29);
      ctx.save();
      ctx.translate(ca.left - 52, (ca.top + ca.bottom) / 2);
      ctx.rotate(-Math.PI / 2);
      ctx.textAlign = 'left'; ctx.textBaseline = 'alphabetic';
      ctx.font = 'bold 21px ' + FONT;
      const cw = ctx.measureText('C').width;
      ctx.fillText('C', -11, 8);
      ctx.font = 'bold 10px ' + FONT;
      ctx.fillText('P', -11 + cw, 13);
      ctx.restore();

      // case label
      ctx.font = 'bold 15px ' + FONT; ctx.textAlign = 'right'; ctx.textBaseline = 'middle';
      ctx.fillText('a7, flap96', ca.right - 22, ca.top - 21);

      // legend box
      const lg = p.legend;
      const x0 = ca.left + lg.box[0], y0 = ca.top + lg.box[1];
      const w = lg.box[2] - lg.box[0], h = lg.box[3] - lg.box[1];
      ctx.fillStyle = '#fff'; ctx.fillRect(x0, y0, w, h);
      ctx.strokeStyle = '#707070'; ctx.lineWidth = 1;
      ctx.strokeRect(Math.round(x0) + 0.5, Math.round(y0) + 0.5, Math.round(w), Math.round(h));
      ctx.font = 'bold 13px ' + FONT; ctx.textAlign = 'left'; ctx.textBaseline = 'middle';
      lg.items.forEach((it, j) => {
        const y = ca.top + lg.row0 + j * 15.5;
        drawSym(ctx, it, ca.left + lg.sym, y, lg, ca);
        ctx.fillStyle = '#000';
        ctx.fillText(it[1], ca.left + lg.text, y);
      });
      ctx.restore();
    }
  };
}

Chart.defaults.font.family = FONT;
Chart.defaults.color = '#000';

panels.forEach(p => {
  const W = p.R - p.L, H = p.B - p.T;
  const padL = 75, padT = 54, padR = 30, padB = 45;
  const cv = document.createElement('canvas');
  cv.width = W + padL + padR; cv.height = H + padT + padB;
  cv.style.left = (p.L - padL) + 'px'; cv.style.top = (p.T - padT) + 'px';
  cv.style.width = cv.width + 'px'; cv.style.height = cv.height + 'px';
  document.body.appendChild(cv);
  const yT = p.yMajor === 2 ? yTicksCoarse : yTicksFine;
  new Chart(cv, {
    type: 'scatter',
    data: {datasets: p.series},
    options: {
      responsive: false, animation: false, devicePixelRatio: 1, events: [],
      layout: {padding: {left: 0, top: padT, right: padR, bottom: 0}},
      plugins: {legend: {display: false}, tooltip: {enabled: false}},
      elements: {line: {tension: 0}},
      scales: {
        x: {
          type: 'linear', min: 1960, max: 2000,
          afterBuildTicks: s => { s.ticks = xTicks.map(v => ({value: v})); },
          afterFit: s => { s.height = padB; },
          ticks: {font: {size: 17}, color: '#000', padding: 2, maxRotation: 0, autoSkip: false,
                  callback: v => String(v)},
          grid: {color: '#3a3a3a', lineWidth: 1, drawTicks: false},
          border: {display: true, color: '#000', width: 2}
        },
        y: {
          type: 'linear', reverse: true, min: -8, max: 1.5,
          afterBuildTicks: s => { s.ticks = yT.map(v => ({value: v})); },
          afterFit: s => { s.width = padL; },
          ticks: {font: {size: 17}, color: '#000', padding: 3, callback: v => String(v)},
          grid: {color: '#3a3a3a', lineWidth: 1, drawTicks: false},
          border: {display: true, color: '#000', width: 2}
        }
      }
    },
    plugins: [decor(p)]
  });
});
</script>
</body>
</html>
